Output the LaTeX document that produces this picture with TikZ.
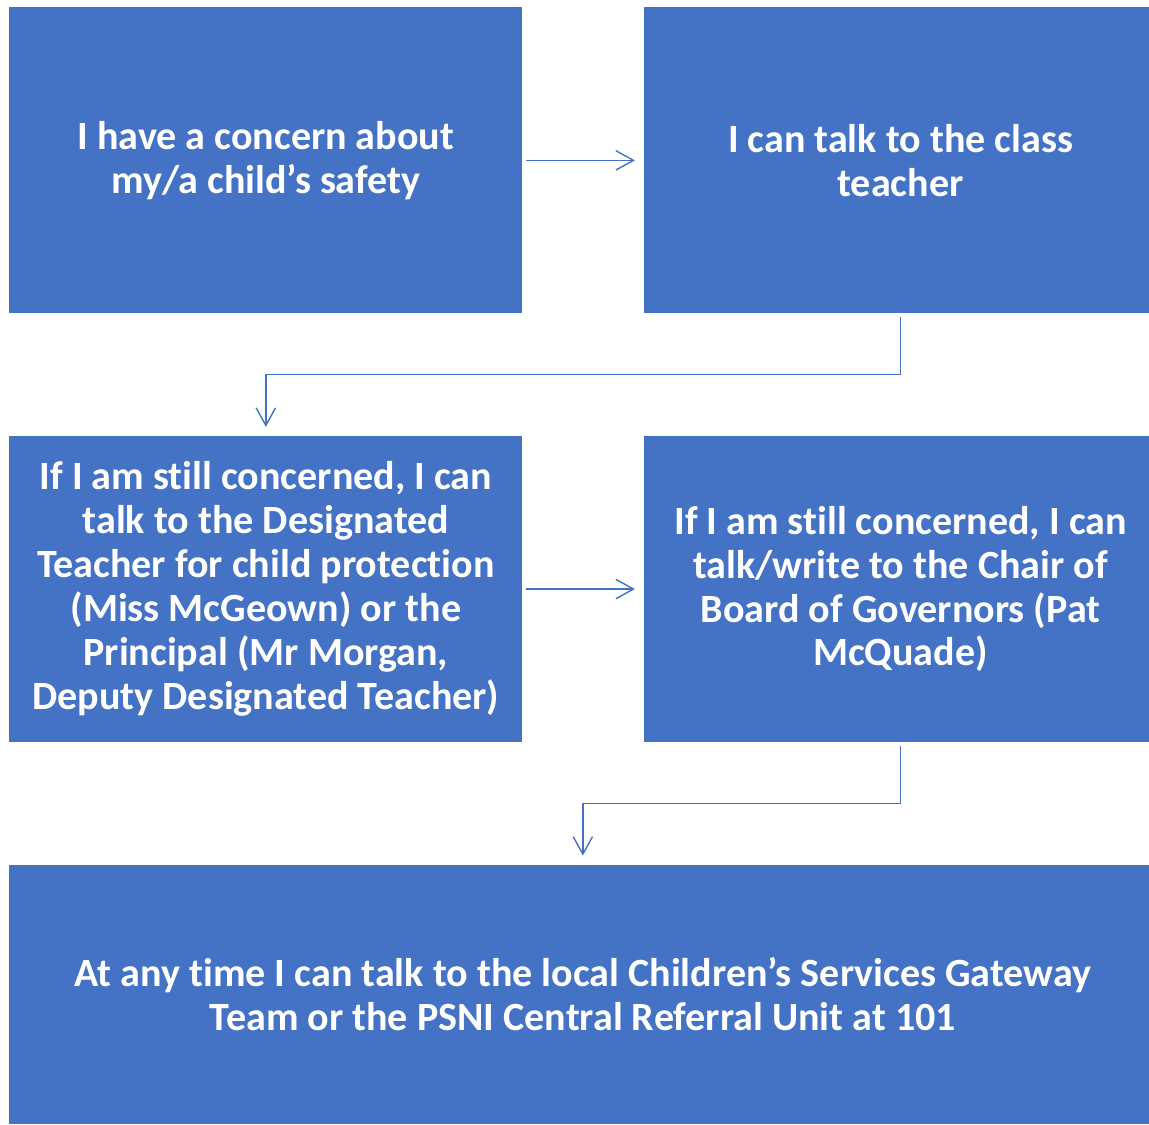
\documentclass[tikz,border=0pt]{standalone}
\usepackage{fontspec}
\setmainfont{Carlito}[Ligatures={TeX,NoCommon,NoContextual,NoRequired}]
\usetikzlibrary{arrows.meta,positioning}
\definecolor{boxblue}{HTML}{4472C4}

\begin{document}
\begin{tikzpicture}[
    node distance=2.44cm and 2.42cm,
    panel/.style={rectangle, fill=boxblue, text=white, font=\fontsize{22.8}{25}\selectfont\bfseries, align=center, minimum width=10.26cm, minimum height=6.12cm, inner sep=0pt},
    arrow/.style={-{Straight Barb[length=10pt,width=11pt]}, draw=boxblue, line width=0.8pt, shorten <=2pt, shorten >=5pt}
  ]
    \useasboundingbox (0,0) rectangle (22.98,-22.48);
    \node[panel, anchor=north west] (concern) at (0.18,-0.14) {I have a concern about\\my/a child’s safety};
    \node[panel, right=of concern] (teacher) {I can talk to the class\\teacher};
    \node[panel, below=of concern] (designated) {If I am still concerned, I can\\talk to the Designated\\Teacher for child protection\\(Miss McGeown) or the\\Principal (Mr Morgan,\\Deputy Designated Teacher)};
    \node[panel, right=of designated] (governors) {If I am still concerned, I can\\talk/write to the Chair of\\Board of Governors (Pat\\McQuade)};
    \node[panel, anchor=north west, minimum width=22.94cm, minimum height=5.18cm] (gateway) at ([yshift=-2.44cm]designated.south west) {At any time I can talk to the local Children’s Services Gateway\\Team or the PSNI Central Referral Unit at 101};
    \draw[arrow] (concern) -- (teacher);
    \draw[arrow] (teacher.south) -- ++(0,-1.22) -| (designated.north);
    \draw[arrow] (designated) -- (governors);
    \draw[arrow] (governors.south) -- ++(0,-1.22) -| (gateway.north);
  \end{tikzpicture}
\end{document}
